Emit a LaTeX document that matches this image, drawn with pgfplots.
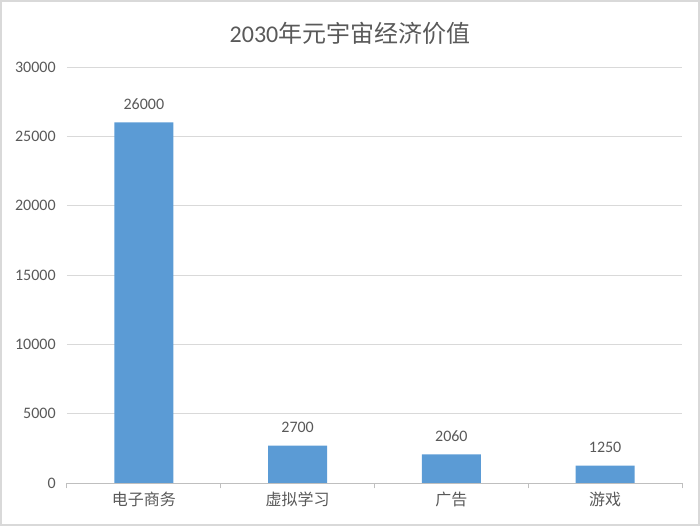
\documentclass[border=0pt]{standalone}
\usepackage{pgfplots}
\pgfplotsset{compat=1.18}
\usepackage{fontspec}
\setmainfont{Carlito}
\newfontfamily\cjk{Noto Sans CJK SC}
\definecolor{barblue}{HTML}{5B9BD5}
\definecolor{txtgray}{HTML}{595959}
\definecolor{gridgray}{HTML}{D9D9D9}
\definecolor{axisgray}{HTML}{BFBFBF}
\begin{document}
\begin{tikzpicture}
\path[use as bounding box] (0,0) rectangle (525pt,394.5pt);
\begin{axis}[
  at={(50.25pt,32.25pt)}, anchor=south west,
  scale only axis, width=461.25pt, height=312pt,
  xmin=-0.5, xmax=3.5, ymin=0, ymax=30000,
  ytick distance=5000,
  scaled y ticks=false,
  /pgf/number format/assume math mode=true,
  /pgf/number format/set thousands separator={},
  xtick={0,1,2,3},
  xticklabels={{\cjk 电子商务},{\cjk 虚拟学习},{\cjk 广告},{\cjk 游戏}},
  minor xtick={-0.5,0.5,1.5,2.5,3.5},
  xtick pos=lower, ytick pos=left,
  major tick length=0pt,
  minor tick length=4pt,
  tick align=outside,
  minor tick style={axisgray, line width=0.75pt},
  axis line style={draw=none},
  ymajorgrids,
  grid style={gridgray, line width=0.75pt},
  ticklabel style={font=\fontsize{12pt}{14pt}\selectfont, text=txtgray},
  yticklabel style={xshift=-5pt},
  xticklabel style={yshift=-3pt},
  clip=false,
]
\addplot[ybar, bar width=44.25pt, fill=barblue, draw=none,
  nodes near coords,
  every node near coord/.append style={font=\fontsize{12pt}{14pt}\selectfont, text=txtgray, yshift=6pt}]
  coordinates {(0,26000) (1,2700) (2,2060) (3,1250)};
\draw[axisgray, line width=0.75pt] (axis cs:-0.5,0) -- (axis cs:3.5,0);
\end{axis}
\node[text=txtgray, font=\fontsize{18pt}{20pt}\selectfont] at (262.5pt,369.75pt) {2030{\cjk 年元宇宙经济价值}};
\draw[gridgray, line width=1.5pt] (0.75pt,0.75pt) rectangle (524.25pt,393.75pt);
\end{tikzpicture}
\end{document}
